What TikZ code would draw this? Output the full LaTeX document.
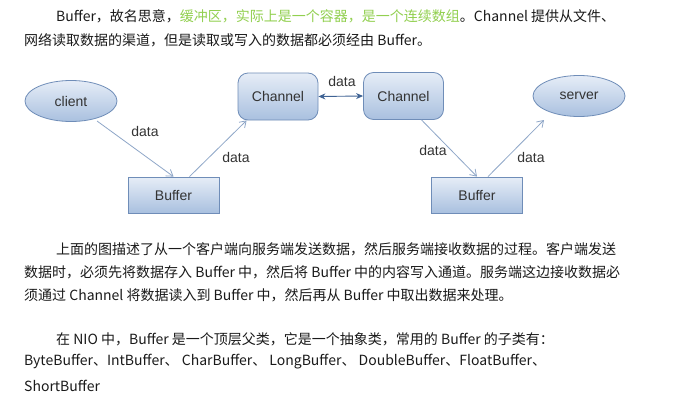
\documentclass[tikz,border=0pt]{standalone}
\usepackage{fontspec}
\setmainfont{Noto Sans CJK SC}
\newfontfamily\diafont{Liberation Sans}
\usetikzlibrary{shapes.geometric,arrows.meta,calc}
\definecolor{txt}{HTML}{1A1A1A}
\definecolor{grn}{HTML}{92D050}
\definecolor{nodeborder}{HTML}{6F8DB8}
\definecolor{topfill}{HTML}{E6EDF7}
\definecolor{botfill}{HTML}{A9C0DF}
\definecolor{lnk}{HTML}{8FA7C8}
\definecolor{dbl}{HTML}{3F6394}
\definecolor{lbl}{HTML}{333333}
\tikzset{
  para/.style={anchor=west,inner sep=0pt,text=txt,font=\fontsize{14}{16}\selectfont},
  blob/.style={draw=nodeborder,line width=0.8pt,top color=topfill,bottom color=botfill,
    text=lbl,font=\diafont\fontsize{14}{16}\selectfont},
  ovalnode/.style={blob,ellipse,inner sep=0pt,minimum width=92pt,minimum height=41pt},
  chan/.style={blob,rectangle,rounded corners=10pt,inner sep=0pt,minimum width=80pt,minimum height=47pt},
  bufbox/.style={blob,rectangle,inner sep=0pt,minimum width=91pt,minimum height=36pt},
  flow/.style={draw=lnk,line width=0.8pt,-{Straight Barb[length=6pt,width=8pt]}},
  both/.style={draw=dbl,line width=0.9pt,{Stealth[length=7pt,width=6pt]}-{Stealth[length=7pt,width=6pt]}},
  dlabel/.style={text=lbl,font=\diafont\fontsize{14}{16}\selectfont,inner sep=0pt}
}
\begin{document}
\begin{tikzpicture}[x=1pt,y=-1pt]
\useasboundingbox[fill=white] (0,0) rectangle (684,407);

% paragraph 1
\node[para] (p1a) at (56,16) {Buffer，故名思意，\textcolor{grn}{缓冲区，实际上是一个容器，是一个连续数组}。Channel 提供从文件、};
\node[para] (p1b) at (24,40) {网络读取数据的渠道，但是读取或写入的数据都必须经由 Buffer。};

% diagram
\node[ovalnode] (client) at (71,101) {client};
\node[chan] (ch1) at (278,96.5) {Channel};
\node[chan] (ch2) at (403.5,96) {Channel};
\node[ovalnode] (server) at (579,96) {server};
\node[bufbox] (buf1) at (173.5,195) {Buffer};
\node[bufbox] (buf2) at (477,195) {Buffer};

\coordinate (c1) at ($(client.center)+(26,20)$);
\coordinate (s1) at ($(server.center)+(-35,24)$);

\draw[flow] (c1) -- (buf1.north);
\draw[flow] ([xshift=16pt]buf1.north) -- ([xshift=9pt]ch1.south west);
\draw[both] (ch1.east) -- (ch2.west);
\draw[flow] ([xshift=18pt]ch2.south) -- (buf2.north);
\draw[flow] ([xshift=11pt]buf2.north) -- (s1);

\node[dlabel] (l1) at (145,131) {data};
\node[dlabel] (l2) at (236,157) {data};
\node[dlabel] (l3) at (342,81) {data};
\node[dlabel] (l4) at (433,150) {data};
\node[dlabel] (l5) at (531,157) {data};

% paragraph 2
\node[para] (p2a) at (56,249) {上面的图描述了从一个客户端向服务端发送数据，然后服务端接收数据的过程。客户端发送};
\node[para] (p2b) at (24,272) {数据时，必须先将数据存入 Buffer 中，然后将 Buffer 中的内容写入通道。服务端这边接收数据必};
\node[para] (p2c) at (24,295) {须通过 Channel 将数据读入到 Buffer 中，然后再从 Buffer 中取出数据来处理。};

% paragraph 3
\node[para] (p3a) at (56,339) {在 NIO 中，Buffer 是一个顶层父类，它是一个抽象类，常用的 Buffer 的子类有：};
\node[para] (p3b) at (24,362) {ByteBuffer、IntBuffer、 CharBuffer、 LongBuffer、 DoubleBuffer、FloatBuffer、};
\node[para] (p3c) at (24,386) {ShortBuffer};
\end{tikzpicture}
\end{document}
